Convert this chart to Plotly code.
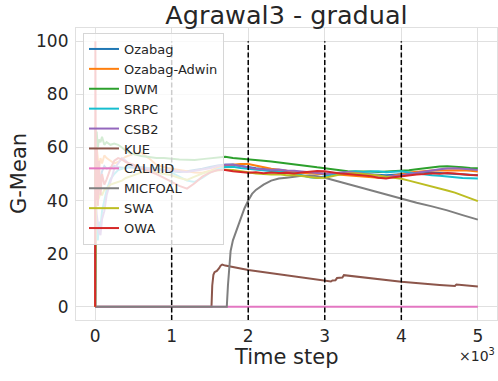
import plotly.graph_objects as go

# ---------------- data ----------------
steps = [0, 3, 10, 20, 35, 50, 70, 90, 120, 150, 200, 250, 300, 350, 400, 450, 500,
         600, 700, 800, 900, 1000, 1100, 1200, 1300, 1400, 1500, 1600, 1700,
         1800, 1900, 2000, 2100, 2200, 2300, 2400, 2500, 2600, 2700, 2800, 2900,
         3000, 3100, 3200, 3300, 3400, 3500, 3600, 3700, 3800, 3900, 4000, 4100,
         4200, 4300, 4400, 4500, 4600, 4700, 4800, 4900, 5000]

ozabag = [0, 50, 45, 48, 52, 50, 48, 51, 53, 52, 52.5, 53, 52.5, 52.3, 52.3, 52.5, 52.3,
          52, 51.8, 51.6, 51.3, 51, 50.8, 51, 51.4, 52, 52.6, 53.2, 53.5,
          53.5, 53, 52.5, 52.2, 51.9, 51.5, 51.3, 51, 50.8, 50.5, 50.3, 50.1,
          50, 50.2, 50.4, 50.3, 50.1, 49.9, 49.8, 49.6, 49.5, 49.7, 50, 50.2,
          50.3, 50.5, 50.6, 50.4, 50.2, 50, 49.8, 49.7, 49.5]
ozabag_adwin = [0, 55, 50, 60, 55, 52, 56, 54, 57, 56, 55, 54, 54.5, 55.5, 56.5, 57, 57.5,
                58, 56, 53.5, 52.5, 52, 51.5, 51.2, 50.6, 50.5, 51.2, 52.5, 53.2,
                53.5, 53.8, 53.8, 53.2, 52.5, 52, 51.6, 51.2, 50.9, 50.5, 50.3, 50.1,
                50.2, 50, 49.8, 49.6, 49.3, 49, 48.8, 48.6, 48.8, 49.3, 50, 50.6,
                50.9, 51.1, 51.3, 51.3, 51.4, 51.5, 51.4, 51.2, 50.9]
dwm = [0, 68, 62, 66, 60, 63, 62, 64, 61, 62, 61, 61.5, 61, 60, 58.8, 58, 57.5,
       56.8, 56.3, 56, 56, 55.7, 55.5, 55.4, 55.3, 55.6, 55.9, 56.2, 56.5,
       56, 55.8, 55.6, 55.4, 55, 54.7, 54.3, 54, 53.6, 53.2, 52.9, 52.5,
       52.2, 51.8, 51.4, 51, 50.9, 51, 50.9, 50.8, 50.9, 51, 51.2, 51.4,
       51.8, 52.2, 52.5, 52.8, 52.9, 52.8, 52.5, 52.3, 52.2]
srpc = [0, 20, 35, 28, 25, 32, 30, 36, 40, 44, 48, 50, 51.5, 52, 52.5, 52.8, 52.8,
        52.5, 52.3, 52.2, 51.5, 50.5, 49, 47.5, 47, 48.5, 50.5, 51.8, 52.6,
        52.7, 52.3, 52, 51.8, 51.5, 51.2, 51, 50.6, 50.2, 49.5, 48.8, 48.5,
        49.2, 49.8, 50.3, 50.8, 51, 50.8, 50.9, 51, 50.7, 50.9, 51, 50.6,
        50.2, 49.8, 49.5, 49.3, 49, 48.7, 48.5, 48.4, 48.3]
csb2 = [0, 45, 40, 35, 30, 28, 27, 33, 36, 42, 47, 52, 54, 56, 55, 53.5, 52.8,
        52.3, 52, 51.6, 51.5, 51.2, 51, 50.8, 51.2, 51.6, 52.2, 53, 53.5,
        53.6, 53, 52.4, 52, 51.8, 51.6, 51.7, 51.3, 51.2, 50.9, 50.6, 50.4,
        50.1, 50.3, 50.6, 50.8, 50.5, 50.2, 49.8, 49.4, 49, 49.2, 49.5, 50,
        50.5, 51, 51.4, 51.8, 52.1, 52.2, 52, 51.8, 51.5]
swa = [0, 30, 38, 42, 40, 41, 43, 42, 44, 44.5, 46, 46.5, 47, 47.5, 48.5, 49, 49.5,
       50.5, 51, 50.5, 50, 49.5, 48.5, 47.8, 49, 50.2, 51, 51.4, 51.6,
       51.5, 51, 50.6, 50.2, 50, 49.8, 49.9, 49.5, 49.6, 49.2, 48.8, 48.5,
       48.6, 49.3, 49.8, 50.2, 50.3, 50, 49.8, 49.4, 49, 48.6, 48.2, 47.5,
       46.8, 46, 45.3, 44.6, 43.8, 43, 42, 41, 39.8]
owa = [0, 100, 40, 60, 38, 55, 42, 50, 46, 48, 52, 55, 56, 55.5, 54.5, 54, 53.5,
       52, 51, 50, 48.5, 47, 45.5, 44.5, 46.5, 49, 50.5, 51.5, 51.5,
       51, 50.8, 50.5, 50.7, 50.3, 50.6, 50.4, 50.5, 50.2, 50.6, 50.9, 51.1,
       51, 50.5, 50.2, 50, 49.8, 49.5, 49.2, 48.6, 48.3, 48.8, 49.2, 49.6,
       49.8, 50, 50.3, 50.1, 50.4, 50.2, 49.8, 49.6, 49.5]

kue_t = [0, 1520, 1530, 1545, 1560, 1590, 1620, 1640, 1660, 1700, 2000, 2500, 3000,
         3080, 3100, 3140, 3160, 3200, 3230, 3250, 3500, 4000, 4500, 4700, 4720,
         4750, 5000]
kue = [0, 0, 8, 12, 13, 13.5, 14.5, 15.5, 15.9, 15.5, 13.8, 11.7, 9.8,
       9.5, 9.9, 10, 10.8, 11, 11, 11.9, 11.1, 9.4, 8.2, 7.8, 8.4,
       8.3, 7.6]

calmid_t = [0, 5000]
calmid = [0, 0]

micfoal_t = [0, 1720, 1735, 1750, 1770, 1800, 1830, 1860, 1900, 1950, 2000, 2050,
             2100, 2200, 2300, 2400, 2500, 2600, 2700, 2800, 2900, 3000, 3200,
             3400, 3600, 3800, 4000, 4200, 4400, 4600, 4800, 5000]
micfoal = [0, 0, 8, 15, 21, 25, 27.5, 29.5, 33, 37, 40, 42.5,
           44, 46, 47.5, 48.3, 48.6, 49, 49.3, 49.4, 49.2, 48.6, 47,
           45.5, 43.8, 42.2, 40.6, 39.2, 37.8, 36.3, 34.5, 32.8]

drift_steps = [1000, 2000, 3000, 4000]
x_tick_vals = [0, 1000, 2000, 3000, 4000, 5000]
x_tick_text = ["0", "1", "2", "3", "4", "5"]
y_tick_vals = [0, 20, 40, 60, 80, 100]

series = [
    ("Ozabag", steps, ozabag, "#1f77b4"),
    ("Ozabag-Adwin", steps, ozabag_adwin, "#ff7f0e"),
    ("DWM", steps, dwm, "#2ca02c"),
    ("SRPC", steps, srpc, "#17becf"),
    ("CSB2", steps, csb2, "#9467bd"),
    ("KUE", kue_t, kue, "#8c564b"),
    ("CALMID", calmid_t, calmid, "#e377c2"),
    ("MICFOAL", micfoal_t, micfoal, "#7f7f7f"),
    ("SWA", steps, swa, "#bcbd22"),
    ("OWA", steps, owa, "#d62728"),
]

FONT = "DejaVu Sans"
TXT = "#262626"
GRID = "#e0e0e0"

fig = go.Figure()
for name, xs, ys, col in series:
    fig.add_trace(go.Scatter(x=xs, y=ys, mode="lines", name=name,
                             legendgroup=name,
                             line=dict(color=col, width=2)))

for d in drift_steps:
    fig.add_shape(type="line", xref="x", yref="y", x0=d, x1=d, y0=-5, y1=100,
                  line=dict(color="black", width=1.5, dash="5px,2.5px"),
                  layer="above")

fig.update_layout(
    width=498, height=381,
    margin=dict(l=76, r=1, t=28, b=61),
    paper_bgcolor="white", plot_bgcolor="white",
    font=dict(family=FONT, color=TXT),
    title=dict(text="Agrawal3 - gradual", x=0.5, xref="paper",
               y=1 - 15 / 381, yanchor="middle",
               font=dict(size=25.5, family=FONT, color=TXT)),
    showlegend=True,
    legend=dict(x=(83 - 76) / 421, y=(320 - 33) / 292, xanchor="left", yanchor="top",
                bgcolor="rgba(255,255,255,0.8)", bordercolor="#d6d6d6", borderwidth=1,
                font=dict(size=13, family=FONT, color=TXT), tracegroupgap=0),
    xaxis=dict(range=[-250, 5250], tickvals=x_tick_vals, ticktext=x_tick_text,
               showgrid=True, gridcolor=GRID, gridwidth=1, zeroline=False,
               showline=True, mirror=True, linecolor=GRID, linewidth=1.2,
               ticks="", ticklabelstandoff=0,
               tickfont=dict(size=17, family=FONT, color=TXT)),
    yaxis=dict(range=[-5, 105], tickvals=y_tick_vals,
               showgrid=True, gridcolor=GRID, gridwidth=1, zeroline=False,
               showline=True, mirror=True, linecolor=GRID, linewidth=1.2,
               ticks="", ticklabelstandoff=3,
               tickfont=dict(size=17, family=FONT, color=TXT)),
    annotations=[
        dict(text="Time step", xref="paper", yref="paper", x=0.5, y=(320 - 357) / 292,
             xanchor="center", yanchor="middle", showarrow=False,
             font=dict(size=21, family=FONT, color=TXT)),
        dict(text="G-Mean", xref="paper", yref="paper", x=(19 - 76) / 421, y=0.5,
             xanchor="center", yanchor="middle", textangle=-90, showarrow=False,
             font=dict(size=21, family=FONT, color=TXT)),
        dict(text="×10<sup>3</sup>", xref="paper", yref="paper", x=(497 - 76) / 421,
             y=(320 - 355) / 292, xanchor="right", yanchor="middle", showarrow=False,
             font=dict(size=14, family=FONT, color=TXT)),
    ],
)

fig.write_html("out.html")
